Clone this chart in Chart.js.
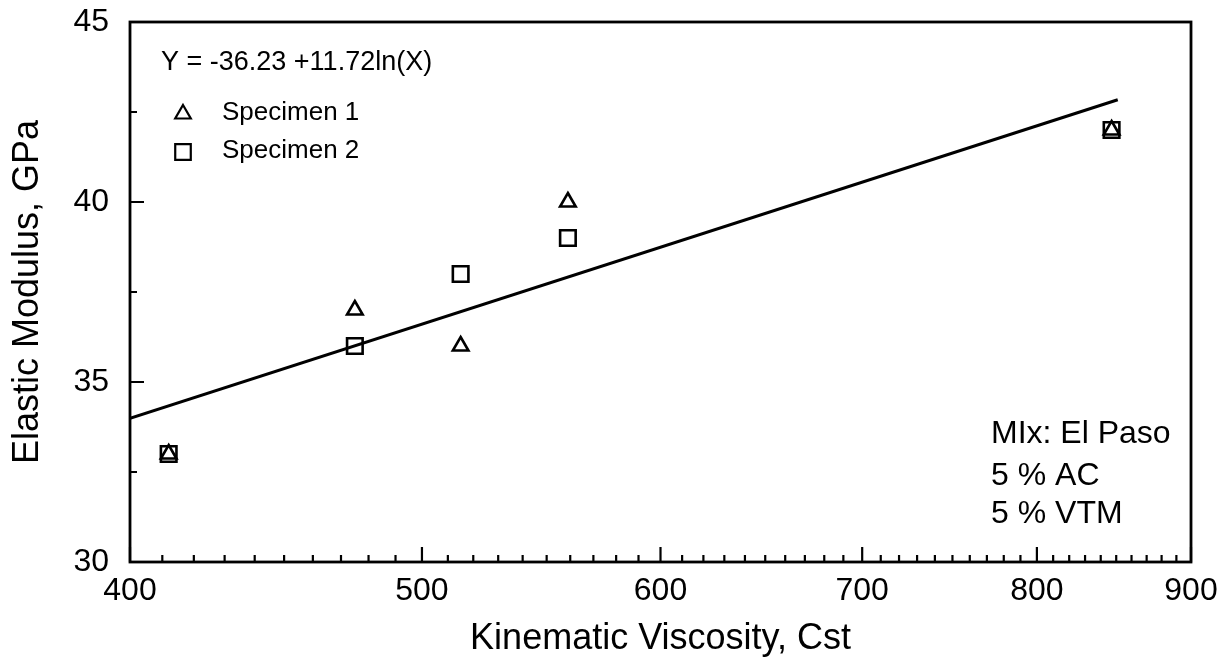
<!DOCTYPE html>
<html>
<head>
<meta charset="utf-8">
<script src="https://cdn.jsdelivr.net/npm/chart.js@4.4.1/dist/chart.umd.min.js"></script>
<style>
  html, body { margin: 0; padding: 0; background: #fff; }
  #wrap { width: 1230px; height: 664px; }
</style>
</head>
<body>
<div id="wrap"><canvas id="modulusChart" width="1230" height="664"></canvas></div>
<script>
// values
const viscosity = [412, 475, 515, 559, 847];
const specimen1 = [33, 37, 36, 40, 42];
const specimen2 = [33, 36, 38, 39, 42];

// fitted line Y = -36.23 + 11.72 ln(X), its two ends
const fitX = [400, 851];
const fitY = [33.99, 42.84];

const xTicks = [400, 500, 600, 700, 800, 900];
const yTicks = [30, 35, 40, 45];
const yMinor = [32.5, 37.5, 42.5];

const FONT = "'Liberation Sans', Arial, Helvetica, sans-serif";

const markerTri = { pointStyle: "triangle", radius: 9, borderWidth: 2.6 };
const markerSq = { pointStyle: "rect", radius: 11, borderWidth: 2.6 };

function toPoints(xs, ys) {
  return xs.map((x, i) => ({ x: x, y: ys[i] }));
}

// box, inner ticks and the notes drawn on the plot
const framePlugin = {
  id: "frame",
  afterDraw(chart) {
    const ctx = chart.ctx;
    const area = chart.chartArea;
    const xs = chart.scales.x;
    const ys = chart.scales.y;

    ctx.save();
    ctx.strokeStyle = "#000";
    ctx.lineWidth = 2.8;
    ctx.strokeRect(area.left, area.top, area.right - area.left, area.bottom - area.top);

    ctx.lineWidth = 2.2;
    ctx.beginPath();
    yTicks.forEach(v => {
      const py = ys.getPixelForValue(v);
      ctx.moveTo(area.left, py);
      ctx.lineTo(area.left + 14, py);
    });
    yMinor.forEach(v => {
      const py = ys.getPixelForValue(v);
      ctx.moveTo(area.left, py);
      ctx.lineTo(area.left + 7, py);
    });
    // minor ticks every 10 on the log axis
    for (let v = 410; v < 900; v += 10) {
      if (v % 100 === 0) continue;
      const px = xs.getPixelForValue(v);
      ctx.moveTo(px, area.bottom);
      ctx.lineTo(px, area.bottom - 7);
    }
    xTicks.forEach(v => {
      const px = xs.getPixelForValue(v);
      ctx.moveTo(px, area.bottom);
      ctx.lineTo(px, area.bottom - 15);
    });
    ctx.stroke();

    // legend + equation
    ctx.fillStyle = "#000";
    ctx.textBaseline = "middle";
    ctx.textAlign = "left";
    ctx.font = "27px " + FONT;
    ctx.fillText("Y = -36.23 +11.72ln(X)", 161, 63);
    ctx.font = "26px " + FONT;
    ctx.fillText("Specimen 1", 222, 113);
    ctx.fillText("Specimen 2", 222, 151);

    const h = Chart.helpers;
    ctx.strokeStyle = "#000";
    ctx.fillStyle = "rgba(0,0,0,0)";
    h.drawPoint(ctx, markerTri, 183, 114);
    h.drawPoint(ctx, markerSq, 183, 152);

    ctx.fillStyle = "#000";
    ctx.font = "32px " + FONT;
    ctx.fillText("MIx: El Paso", 991, 434);
    ctx.fillText("5 % AC", 991, 476);
    ctx.fillText("5 % VTM", 991, 514);
    ctx.restore();
  },
};

new Chart(document.getElementById("modulusChart").getContext("2d"), {
  type: "scatter",
  data: {
    datasets: [
      {
        label: "Fit",
        type: "line",
        data: toPoints(fitX, fitY),
        borderColor: "#000",
        borderWidth: 3,
        pointRadius: 0,
        fill: false,
        tension: 0,
      },
      {
        label: "Specimen 1",
        data: toPoints(viscosity, specimen1),
        pointStyle: "triangle",
        pointRadius: markerTri.radius,
        pointBorderWidth: markerTri.borderWidth,
        borderColor: "#000",
        backgroundColor: "rgba(0,0,0,0)",
      },
      {
        label: "Specimen 2",
        data: toPoints(viscosity, specimen2),
        pointStyle: "rect",
        pointRadius: markerSq.radius,
        pointBorderWidth: markerSq.borderWidth,
        borderColor: "#000",
        backgroundColor: "rgba(0,0,0,0)",
      },
    ],
  },
  options: {
    responsive: false,
    animation: false,
    layout: { padding: { left: 0, right: 39, top: 22, bottom: 0 } },
    plugins: {
      legend: { display: false },
      tooltip: { enabled: false },
    },
    scales: {
      x: {
        type: "logarithmic",
        min: 400,
        max: 900,
        afterBuildTicks: scale => {
          scale.ticks = xTicks.map(v => ({ value: v }));
        },
        afterFit: scale => {
          scale.height = 102;
          scale.paddingLeft = 0;
          scale.paddingRight = 0;
        },
        ticks: {
          color: "#000",
          font: { family: FONT, size: 32 },
          padding: 10,
          maxRotation: 0,
          autoSkip: false,
          callback: value => String(value),
        },
        grid: { display: false, drawTicks: false },
        border: { display: false },
        title: {
          display: true,
          text: "Kinematic Viscosity, Cst",
          color: "#000",
          font: { family: FONT, size: 36 },
          padding: { top: 0, bottom: 3 },
        },
      },
      y: {
        min: 30,
        max: 45,
        afterBuildTicks: scale => {
          scale.ticks = yTicks.map(v => ({ value: v }));
        },
        afterFit: scale => {
          scale.width = 130;
          scale.paddingTop = 0;
          scale.paddingBottom = 0;
        },
        ticks: {
          color: "#000",
          font: { family: FONT, size: 32 },
          padding: 21,
        },
        grid: { display: false, drawTicks: false },
        border: { display: false },
        title: {
          display: true,
          text: "Elastic Modulus, GPa",
          color: "#000",
          font: { family: FONT, size: 36 },
          padding: { top: 6, bottom: 0 },
        },
      },
    },
  },
  plugins: [framePlugin],
});
</script>
</body>
</html>
